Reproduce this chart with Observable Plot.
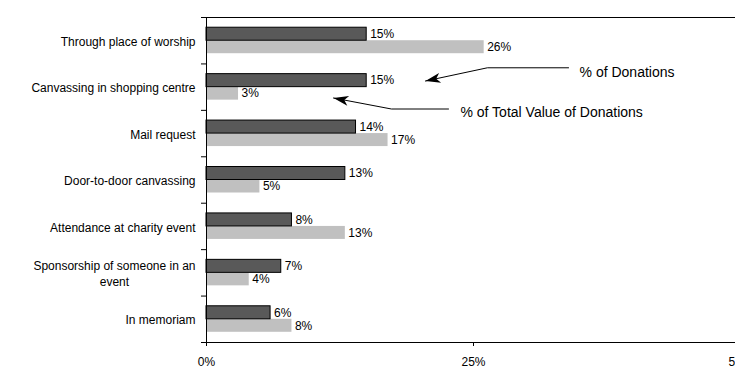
<!DOCTYPE html>
<html>
<head>
<meta charset="utf-8">
<script src="https://cdn.jsdelivr.net/npm/d3@7"></script>
<script src="https://cdn.jsdelivr.net/npm/@observablehq/plot@0.6"></script>
<style>
  body { margin: 0; background: #fff; }
  #chart { width: 735px; height: 370px; overflow: hidden; }
  #chart svg { max-width: none !important; display: block; }
</style>
</head>
<body>
<div id="chart"></div>
<script>
// Fundraising methods, top to bottom
const categories = [
  "Through place of worship",
  "Canvassing in shopping centre",
  "Mail request",
  "Door-to-door canvassing",
  "Attendance at charity event",
  "Sponsorship of someone in an event",
  "In memoriam"
];
// Axis labels as they are broken onto lines
const categoryLabels = [
  "Through place of worship",
  "Canvassing in shopping centre",
  "Mail request",
  "Door-to-door canvassing",
  "Attendance at charity event",
  "Sponsorship of someone in an\nevent",
  "In memoriam"
];
const seriesNames = ["% of Donations", "% of Total Value of Donations"];
const pctDonations = [15, 15, 14, 13, 8, 7, 6];
const pctValue = [26, 3, 17, 5, 13, 4, 8];
const xTicks = [0, 25, 50];

// Callout leader lines in axis units: [percent, category row]
const calloutDonations = [[33.9, 1.083], [26.3, 1.083], [20.5, 1.368]];
const calloutValue = [[22.66, 1.971], [17.32, 1.971], [11.89, 1.734]];
const calloutLabelPos = [[34.93, 1.185], [23.78, 2.046]];

const rows = categories.map((category, i) => ({
  category, row: i, donations: pctDonations[i], value: pctValue[i]
}));
const callouts = seriesNames.map((name, i) => ({
  name, x: calloutLabelPos[i][0], y: calloutLabelPos[i][1]
}));

const FONT = "'Liberation Sans', Arial, sans-serif";
const ctx = document.createElement("canvas").getContext("2d");
ctx.font = `12px ${FONT}`;

// Filled "stealth" arrowhead for the callout lines
function stealth(color) {
  const ns = "http://www.w3.org/2000/svg";
  const m = document.createElementNS(ns, "marker");
  m.setAttribute("viewBox", "-16 -6 17 12");
  m.setAttribute("markerUnits", "userSpaceOnUse");
  m.setAttribute("markerWidth", 17);
  m.setAttribute("markerHeight", 12);
  m.setAttribute("refX", 0);
  m.setAttribute("refY", 0);
  m.setAttribute("orient", "auto");
  const p = document.createElementNS(ns, "path");
  p.setAttribute("d", "M0,0L-15,-5L-11,0L-15,5Z");
  p.setAttribute("fill", color);
  p.setAttribute("stroke", "none");
  m.appendChild(p);
  return m;
}

// Category labels: each block is right-aligned to the axis, its lines centred
const labelMarks = categoryLabels.map((label, i) => {
  const w = d3.max(label.split("\n"), s => ctx.measureText(s).width);
  return Plot.text([label], {
    x: 0, y: i + 0.5, text: d => d,
    textAnchor: "middle", dx: -11 - w / 2,
    lineHeight: 1.33, fontSize: 12, fill: "black"
  });
});

const chart = Plot.plot({
  width: 760,
  height: 370,
  marginLeft: 206,
  marginRight: 20,
  marginTop: 17,
  marginBottom: 28,
  style: { fontFamily: FONT, fontSize: "12px", color: "black", background: "white", maxWidth: "none" },
  x: { domain: [0, 50] },
  y: { domain: [0, categories.length], reverse: true },
  marks: [
    Plot.rect(rows, {
      x1: 0, x2: "value",
      y1: d => d.row + 0.5, y2: d => d.row + 0.78,
      fill: "#c0c0c0"
    }),
    Plot.rect(rows, {
      x1: 0, x2: "donations",
      y1: d => d.row + 0.22, y2: d => d.row + 0.5,
      fill: "#595959", stroke: "black", strokeWidth: 1
    }),
    Plot.text(rows, {
      x: "donations", y: d => d.row + 0.36,
      text: d => `${d.donations}%`, textAnchor: "start", dx: 3.5, fontSize: 12, fill: "black"
    }),
    Plot.text(rows, {
      x: "value", y: d => d.row + 0.64,
      text: d => `${d.value}%`, textAnchor: "start", dx: 3, fontSize: 12, fill: "black"
    }),
    Plot.frame({ stroke: "black" }),
    Plot.axisY({
      ticks: d3.range(0, categories.length + 1),
      tickSize: 5, tickFormat: () => "", label: null
    }),
    Plot.axisX({
      ticks: xTicks, tickFormat: d => `${d}%`,
      tickSize: 4, tickPadding: 11, fontSize: 12, label: null
    }),
    ...labelMarks,
    Plot.line(calloutDonations, {
      x: d => d[0], y: d => d[1], stroke: "black", strokeWidth: 1, markerEnd: stealth
    }),
    Plot.line(calloutValue, {
      x: d => d[0], y: d => d[1], stroke: "black", strokeWidth: 1, markerEnd: stealth
    }),
    Plot.text(callouts, {
      x: "x", y: "y", text: "name", textAnchor: "start", fontSize: 14, fill: "black"
    })
  ]
});

document.getElementById("chart").appendChild(chart);
</script>
</body>
</html>
